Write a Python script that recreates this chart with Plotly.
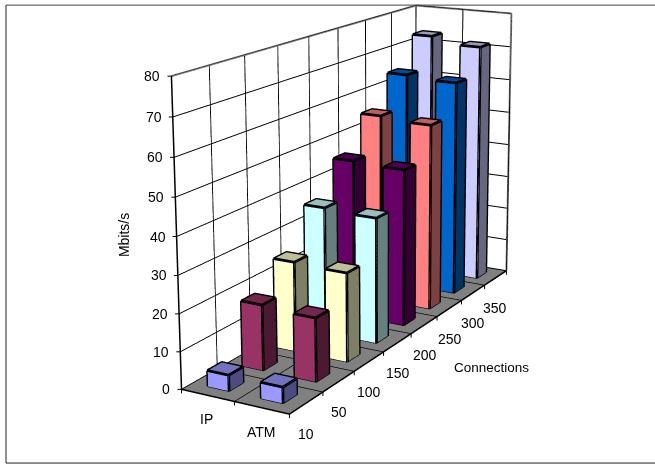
import numpy as np
import plotly.graph_objects as go

connections = ["10","50","100","150","200","250","300","350"]
atm_values = [4.3,17.2,24.5,35.2,44.8,54.1,63.3,71.2]
ip_values = [4.3,17.9,24.9,35.8,45.3,55.0,64.1,73.1]
face_colors = ["#9999FF","#993366","#FFFFCC","#CCFFFF","#660066","#FF8080","#0066CC","#CCCCFF"]
z_ticks = [0,10,20,30,40,50,60,70,80]

# camera of the reference's weak perspective
eye=[-2.9122,-1.6652,0.9162]
ctr=[0.1030,0,0.0740]
asp=[1,0.2546,0.6382]
cx=382.8829; cy=142.9058; focal=1593.6646

FIG_H=focal/1.20710678;FIG_W=2*cx
TOP=FIG_H/2-cy     # pixels of the tall figure hidden above the window
fx=lambda v:v/FIG_W
fy=lambda v:1-(v+TOP)/FIG_H

def bar_traces(i,j,val,col):
    xc=i+.5;yc=j+.5;h=.2
    x0,x1,y0,y1=xc-h,xc+h,yc-h,yc+h
    vx=[x0,x1,x1,x0,x0,x1,x1,x0];vy=[y0,y0,y1,y1,y0,y0,y1,y1];vz=[0,0,0,0,val,val,val,val]
    rgb=np.array([int(col[k:k+2],16) for k in (1,3,5)],float)
    fc=lambda f:"rgb(%d,%d,%d)"%tuple(rgb*f)
    tri=[(0,1,2),(0,2,3),(4,5,6),(4,6,7),(0,3,7),(0,7,4),(1,2,6),(1,6,5),(3,2,6),(3,6,7),(0,1,5),(0,5,4)]
    cols=[fc(.5)]*2+[fc(.75)]*2+[fc(1)]*2+[fc(.5)]*2+[fc(.5)]*2+[fc(.5)]*2
    mesh=go.Mesh3d(x=vx,y=vy,z=vz,i=[t[0] for t in tri],j=[t[1] for t in tri],k=[t[2] for t in tri],facecolor=cols,flatshading=True,
        lighting=dict(ambient=1,diffuse=0,specular=0,fresnel=0,roughness=1),hoverinfo="skip",showscale=False)
    ex=[x0,x0,None,x1,x1,None,x0,x1,None,x0,x0,None,x0,x1,x1,x0,x0]
    ey=[y0,y0,None,y0,y0,None,y0,y0,None,y1,y1,None,y0,y0,y1,y1,y0]
    ez=[0,val,None,0,val,None,0,0,None,0,val,None,val,val,val,val,val]
    ex+=[None,x0,x0];ey+=[None,y0,y1];ez+=[None,0,0]
    ex+=[None,x1,x1];ey+=[None,y0,y1];ez+=[None,0,0]
    edge=go.Scatter3d(x=ex,y=ey,z=ez,mode="lines",line=dict(color="black",width=5.5),hoverinfo="skip",showlegend=False)
    return [mesh,edge]

fig=go.Figure()
for j,vals in enumerate([atm_values,ip_values]):
    for i,v in enumerate(vals):
        for t in bar_traces(i,j,v,face_colors[i]):
            fig.add_trace(t)
def ln(xs,ys,zs,c,w):
    fig.add_trace(go.Scatter3d(x=xs,y=ys,z=zs,mode="lines",line=dict(color=c,width=w),hoverinfo="skip",showlegend=False))
ln([0,8,8,8],[2,2,0,0],[80,80,80,0],"#808080",4)
ln([8,8],[2,2],[0,80],"#808080",4)
ln([0,0],[2,2],[0,80],"black",3)
ln([0,0,8],[2,0,0],[0,0,0],"black",3)

FONT=dict(family="Liberation Sans",size=14,color="black")
ann=[]
def tick(x,y,z,ax,ay):
    ann.append(dict(x=x,y=y,z=z,text=".",font=dict(size=1,color="rgba(0,0,0,0)"),showarrow=True,arrowhead=0,arrowwidth=1,arrowcolor="black",ax=ax,ay=ay,standoff=0,startstandoff=0))
def lab(x,y,z,t,dx,dy,anchor="center"):
    ann.append(dict(x=x,y=y,z=z,text=t,showarrow=False,xanchor=anchor,xshift=dx,yshift=-dy,font=FONT))
for v in z_ticks:
    tick(0,2,v,-6,0); lab(0,2,v,str(v),-9,0,"right")
for k in range(9):
    tick(k,0,0,0,6)
for k,c in enumerate(connections):
    lab(k,0,0,c,17-.9*k,20+.45*k)
tick(0,1,0,0,6);tick(0,2,0,0,6)
lab(0,1.5,0,"IP",-1,24);lab(0,.5,0,"ATM",0,24)

fig.update_layout(width=FIG_W,height=FIG_H,margin=dict(l=0,r=0,t=0,b=0),paper_bgcolor="white",showlegend=False,
 scene=dict(domain=dict(x=[0,1],y=[0,1]),aspectmode="manual",aspectratio=dict(x=asp[0],y=asp[1],z=asp[2]),
  camera=dict(eye=dict(x=eye[0],y=eye[1],z=eye[2]),center=dict(x=ctr[0],y=ctr[1],z=ctr[2]),up=dict(x=0,y=0,z=1),projection=dict(type="perspective")),
  xaxis=dict(range=[0,8],tickvals=list(range(9)),showticklabels=False,title="",gridcolor="black",gridwidth=2,showbackground=True,backgroundcolor="white",zeroline=False,showspikes=False,showline=False),
  yaxis=dict(range=[0,2],tickvals=[0,1,2],showticklabels=False,title="",gridcolor="black",gridwidth=2,showbackground=True,backgroundcolor="white",zeroline=False,showspikes=False,showline=False),
  zaxis=dict(range=[0,80],tickvals=z_ticks,showticklabels=False,title="",gridcolor="black",gridwidth=2,showbackground=True,backgroundcolor="#808080",zeroline=False,showspikes=False,showline=False),
  annotations=ann),
 annotations=[
  dict(xref="paper",yref="paper",x=fx(491),y=fy(367),xanchor="center",yanchor="middle",text="Connections",showarrow=False,font=dict(family="Liberation Sans",size=13.5,color="black")),
  dict(xref="paper",yref="paper",x=fx(124),y=fy(235),xanchor="center",yanchor="middle",text="Mbits/s",textangle=-90,showarrow=False,font=FONT),
 ],
 shapes=[dict(type="line",xref="paper",yref="paper",x0=fx(6),x1=1,y0=fy(5),y1=fy(5),line=dict(color="#444",width=1)),
         dict(type="line",xref="paper",yref="paper",x0=fx(6),x1=fx(6),y0=fy(5),y1=fy(463),line=dict(color="#222",width=1)),
         dict(type="line",xref="paper",yref="paper",x0=fx(6),x1=1,y0=fy(463),y1=fy(463),line=dict(color="#222",width=1))])
post=("document.body.style.margin='0';document.documentElement.style.overflow='hidden';document.body.style.overflow='hidden';"
      "document.querySelector('.plotly-graph-div').style.marginTop='-%dpx';"%round(TOP))
fig.write_html("out.html",config={"displayModeBar":False},post_script=post)
